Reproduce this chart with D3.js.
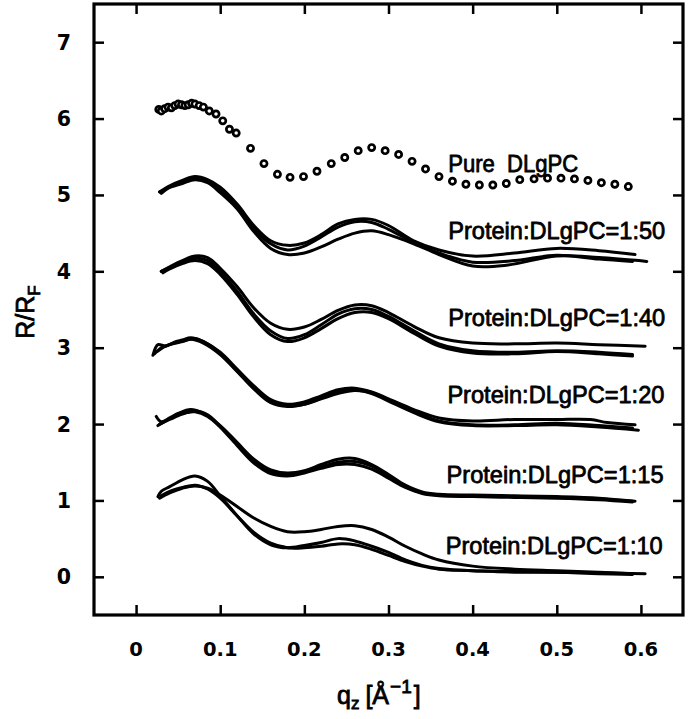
<!DOCTYPE html>
<html><head><meta charset="utf-8">
<script src="https://cdn.jsdelivr.net/npm/d3@7"></script>
<style>body{margin:0;background:#fff}svg{display:block}</style>
</head><body>
<script>
// ---- data ----
const xTicks = [0, 0.1, 0.2, 0.3, 0.4, 0.5, 0.6];
const yTicks = [0, 1, 2, 3, 4, 5, 6, 7];
const xTickLabels = ["0", "0.1", "0.2", "0.3", "0.4", "0.5", "0.6"];
const yTickLabels = ["0", "1", "2", "3", "4", "5", "6", "7"];

const pureQ = [0.027,0.030,0.034,0.038,0.042,0.046,0.050,0.054,0.058,0.062,0.066,0.070,0.075,0.080,0.087,0.095,0.103,0.111,0.119,0.136,0.152,0.168,0.183,0.199,0.215,0.232,0.248,0.264,0.280,0.296,0.312,0.328,0.344,0.360,0.376,0.392,0.408,0.424,0.440,0.456,0.473,0.489,0.505,0.521,0.537,0.553,0.569,0.585];
const pureR = [6.12,6.10,6.13,6.15,6.14,6.17,6.19,6.18,6.17,6.18,6.20,6.19,6.17,6.15,6.10,6.06,5.97,5.86,5.81,5.61,5.41,5.27,5.23,5.24,5.31,5.41,5.49,5.58,5.62,5.58,5.53,5.44,5.34,5.24,5.18,5.14,5.13,5.13,5.15,5.20,5.21,5.22,5.22,5.21,5.19,5.16,5.14,5.11];

const r50a = [[0.028,5.04],[0.04,5.12],[0.055,5.19],[0.07,5.24],[0.085,5.20],[0.10,5.10],[0.12,4.88],[0.14,4.60],[0.16,4.40],[0.18,4.34],[0.20,4.37],[0.22,4.48],[0.24,4.62],[0.26,4.68],[0.28,4.68],[0.30,4.60],[0.33,4.40],[0.36,4.28],[0.40,4.20],[0.45,4.24],[0.50,4.30],[0.55,4.27],[0.593,4.22]];
const r50b = [[0.030,5.02],[0.04,5.10],[0.055,5.17],[0.07,5.21],[0.085,5.18],[0.10,5.06],[0.12,4.85],[0.14,4.56],[0.16,4.36],[0.18,4.28],[0.20,4.33],[0.22,4.45],[0.24,4.58],[0.26,4.65],[0.28,4.64],[0.30,4.55],[0.33,4.38],[0.36,4.24],[0.40,4.12],[0.45,4.14],[0.50,4.21],[0.55,4.16],[0.59,4.13]];
const r50c = [[0.028,5.04],[0.04,5.10],[0.055,5.15],[0.07,5.20],[0.085,5.16],[0.10,5.03],[0.12,4.82],[0.14,4.52],[0.16,4.30],[0.18,4.22],[0.20,4.24],[0.22,4.32],[0.24,4.42],[0.26,4.50],[0.28,4.53],[0.30,4.48],[0.33,4.36],[0.36,4.22],[0.40,4.07],[0.44,4.08],[0.50,4.20],[0.55,4.18],[0.607,4.13]];

const r40a = [[0.030,4.00],[0.04,4.06],[0.055,4.14],[0.07,4.20],[0.085,4.18],[0.10,4.04],[0.12,3.80],[0.14,3.52],[0.16,3.32],[0.18,3.24],[0.20,3.27],[0.22,3.37],[0.24,3.49],[0.26,3.56],[0.28,3.55],[0.30,3.46],[0.33,3.28],[0.36,3.13],[0.40,3.06],[0.45,3.05],[0.50,3.06],[0.55,3.04],[0.605,3.02]];
const r40b = [[0.030,4.00],[0.04,4.05],[0.055,4.12],[0.07,4.17],[0.085,4.14],[0.10,4.00],[0.12,3.74],[0.14,3.44],[0.16,3.22],[0.18,3.12],[0.20,3.17],[0.22,3.30],[0.24,3.44],[0.26,3.51],[0.28,3.50],[0.30,3.41],[0.33,3.22],[0.36,3.05],[0.40,2.96],[0.45,2.94],[0.50,2.96],[0.55,2.94],[0.59,2.91]];
const r40c = [[0.032,3.98],[0.04,4.03],[0.055,4.10],[0.07,4.14],[0.085,4.10],[0.10,3.96],[0.12,3.70],[0.14,3.40],[0.16,3.17],[0.18,3.08],[0.20,3.13],[0.22,3.25],[0.24,3.38],[0.26,3.46],[0.28,3.46],[0.30,3.38],[0.33,3.19],[0.36,3.02],[0.40,2.93],[0.45,2.92],[0.50,2.95],[0.55,2.92],[0.59,2.89]];

const r20a = [[0.020,2.90],[0.026,3.04],[0.035,3.02],[0.045,3.07],[0.055,3.10],[0.065,3.13],[0.08,3.08],[0.10,2.94],[0.12,2.72],[0.14,2.50],[0.16,2.32],[0.18,2.26],[0.20,2.29],[0.22,2.37],[0.24,2.45],[0.26,2.47],[0.28,2.42],[0.30,2.33],[0.33,2.19],[0.36,2.08],[0.40,2.04],[0.45,2.06],[0.50,2.06],[0.54,2.06],[0.56,2.02],[0.593,1.99]];
const r20b = [[0.022,2.92],[0.03,3.00],[0.04,3.04],[0.055,3.08],[0.065,3.11],[0.08,3.06],[0.10,2.91],[0.12,2.69],[0.14,2.46],[0.16,2.28],[0.18,2.23],[0.20,2.26],[0.22,2.34],[0.24,2.43],[0.26,2.45],[0.28,2.40],[0.30,2.30],[0.33,2.15],[0.36,2.03],[0.40,1.98],[0.45,1.98],[0.50,1.99],[0.55,1.96],[0.597,1.92]];
const r20c = [[0.025,2.95],[0.035,3.02],[0.045,3.06],[0.06,3.10],[0.07,3.12],[0.085,3.05],[0.10,2.92],[0.12,2.70],[0.14,2.47],[0.16,2.30],[0.18,2.24],[0.20,2.26],[0.22,2.33],[0.24,2.40],[0.26,2.44],[0.28,2.41],[0.30,2.32],[0.33,2.17],[0.36,2.04],[0.40,1.99],[0.45,1.99],[0.50,2.01],[0.55,1.98],[0.59,1.95]];

const r15a = [[0.024,2.10],[0.03,2.03],[0.04,2.08],[0.05,2.14],[0.065,2.19],[0.08,2.14],[0.10,1.98],[0.12,1.76],[0.14,1.54],[0.16,1.40],[0.18,1.36],[0.20,1.39],[0.22,1.47],[0.24,1.54],[0.26,1.55],[0.28,1.47],[0.30,1.34],[0.32,1.20],[0.34,1.11],[0.36,1.08],[0.40,1.07],[0.45,1.06],[0.50,1.05],[0.55,1.03],[0.593,0.99]];
const r15b = [[0.026,1.98],[0.035,2.04],[0.045,2.10],[0.06,2.15],[0.07,2.16],[0.085,2.10],[0.10,1.96],[0.12,1.72],[0.14,1.49],[0.16,1.35],[0.18,1.32],[0.20,1.36],[0.22,1.42],[0.24,1.47],[0.26,1.47],[0.28,1.41],[0.30,1.29],[0.32,1.17],[0.34,1.09],[0.36,1.06],[0.40,1.05],[0.45,1.04],[0.50,1.03],[0.55,1.01],[0.59,0.98]];
const r15c = [[0.028,2.00],[0.04,2.06],[0.055,2.13],[0.07,2.17],[0.085,2.12],[0.10,1.97],[0.12,1.74],[0.14,1.51],[0.16,1.37],[0.18,1.33],[0.20,1.37],[0.22,1.44],[0.24,1.50],[0.26,1.51],[0.28,1.45],[0.30,1.32],[0.32,1.18],[0.34,1.10],[0.36,1.07],[0.40,1.06],[0.45,1.05],[0.50,1.04],[0.55,1.02],[0.59,0.99]];

const r10a = [[0.026,1.05],[0.03,1.12],[0.04,1.18],[0.055,1.27],[0.07,1.32],[0.085,1.25],[0.10,1.06],[0.12,0.80],[0.14,0.56],[0.16,0.42],[0.18,0.38],[0.20,0.41],[0.22,0.45],[0.24,0.50],[0.26,0.47],[0.28,0.40],[0.30,0.32],[0.32,0.22],[0.34,0.15],[0.36,0.11],[0.40,0.08],[0.45,0.07],[0.50,0.06],[0.55,0.05],[0.605,0.04]];
const r10b = [[0.028,1.03],[0.04,1.10],[0.055,1.16],[0.07,1.19],[0.085,1.16],[0.10,1.07],[0.12,0.92],[0.14,0.77],[0.16,0.66],[0.18,0.59],[0.20,0.59],[0.22,0.62],[0.24,0.66],[0.26,0.67],[0.28,0.62],[0.30,0.52],[0.32,0.40],[0.34,0.30],[0.36,0.22],[0.40,0.14],[0.45,0.10],[0.50,0.08],[0.55,0.06],[0.59,0.04]];
const r10c = [[0.030,1.06],[0.04,1.12],[0.055,1.17],[0.07,1.20],[0.085,1.15],[0.10,1.03],[0.12,0.80],[0.14,0.58],[0.16,0.44],[0.18,0.38],[0.20,0.38],[0.22,0.40],[0.24,0.43],[0.26,0.42],[0.28,0.36],[0.30,0.28],[0.32,0.20],[0.34,0.14],[0.36,0.10],[0.40,0.08],[0.45,0.06],[0.50,0.06],[0.55,0.04],[0.59,0.03]];

const labelTexts = ["Pure  DLgPC", "Protein:DLgPC=1:50", "Protein:DLgPC=1:40", "Protein:DLgPC=1:20", "Protein:DLgPC=1:15", "Protein:DLgPC=1:10"];
const labelQ = [0.371, 0.371, 0.371, 0.370, 0.369, 0.368];
const labelR = [5.30, 4.42, 3.28, 2.28, 1.23, 0.30];
const labelW = [130, 217, 217, 217, 217, 217];

// ---- drawing ----
const W = 692, H = 719;
const svg = d3.select("body").append("svg").attr("width", W).attr("height", H);
const x = d3.scaleLinear().domain([-0.05, 0.65]).range([94, 683]);
const y = d3.scaleLinear().domain([-0.5, 7.5]).range([615, 4]);

const curves = [r50a, r50b, r50c, r40a, r40b, r40c, r20a, r20b, r20c, r15a, r15b, r15c, r10a, r10b, r10c];
const line = d3.line().x(d => x(d[0])).y(d => y(d[1])).curve(d3.curveCatmullRom.alpha(0.5));
svg.append("g").selectAll("path").data(curves).join("path")
  .attr("d", line).attr("fill", "none").attr("stroke", "#000")
  .attr("stroke-width", 3).attr("stroke-linejoin", "round").attr("stroke-linecap", "round");

svg.append("g").selectAll("circle").data(pureQ.map((q, i) => [q, pureR[i]])).join("circle")
  .attr("cx", d => x(d[0])).attr("cy", d => y(d[1])).attr("r", 3.1)
  .attr("fill", "#fff").attr("stroke", "#000").attr("stroke-width", 2.7);

// axes (inward ticks on all four sides)
const tick = 10;
const axStyle = g => { g.select(".domain").remove(); g.selectAll(".tick line").attr("stroke", "#000").attr("stroke-width", 2.5); g.selectAll("text").remove(); };
svg.append("g").attr("transform", `translate(0,${y(-0.5)})`)
  .call(d3.axisTop(x).tickValues(xTicks).tickSize(tick)).call(axStyle);
svg.append("g").attr("transform", `translate(0,${y(7.5)})`)
  .call(d3.axisBottom(x).tickValues(xTicks).tickSize(tick)).call(axStyle);
svg.append("g").attr("transform", `translate(${x(-0.05)},0)`)
  .call(d3.axisRight(y).tickValues(yTicks).tickSize(tick)).call(axStyle);
svg.append("g").attr("transform", `translate(${x(0.65)},0)`)
  .call(d3.axisLeft(y).tickValues(yTicks).tickSize(tick)).call(axStyle);

svg.append("rect").attr("x", x(-0.05)).attr("y", y(7.5))
  .attr("width", x(0.65) - x(-0.05)).attr("height", y(-0.5) - y(7.5))
  .attr("fill", "none").attr("stroke", "#000").attr("stroke-width", 3.2);

// tick labels
const tf = "'DejaVu Sans', sans-serif";
svg.append("g").selectAll("text").data(xTicks).join("text")
  .attr("x", d => x(d)).attr("y", 656).attr("text-anchor", "middle")
  .attr("font-family", tf).attr("font-weight", "bold").attr("font-size", 19.5)
  .text((d, i) => xTickLabels[i]);
svg.append("g").selectAll("text").data(yTicks).join("text")
  .attr("x", 71).attr("y", d => y(d) + 7.5).attr("text-anchor", "end")
  .attr("font-family", tf).attr("font-weight", "bold").attr("font-size", 20.5)
  .text((d, i) => yTickLabels[i]);

// series labels
const lf = "'Liberation Sans', Arial, sans-serif";
svg.append("g").selectAll("text").data(labelTexts).join("text")
  .attr("x", (d, i) => x(labelQ[i])).attr("y", (d, i) => y(labelR[i]))
  .attr("font-family", lf).attr("font-size", 24.5).attr("fill", "#000")
  .attr("stroke", "#000").attr("stroke-width", 0.8).attr("stroke-linejoin", "round")
  .attr("textLength", (d, i) => labelW[i]).attr("lengthAdjust", "spacingAndGlyphs")
  .attr("xml:space", "preserve").style("white-space", "pre")
  .text(d => d);

// axis titles
const yt = svg.append("text").attr("transform", "translate(34,312) rotate(-90)")
  .attr("text-anchor", "middle").attr("font-family", lf).attr("font-size", 25)
  .attr("stroke", "#000").attr("stroke-width", 0.8);
yt.append("tspan").text("R/R");
yt.append("tspan").attr("font-size", 17).attr("dy", 6).text("F");

const xt = svg.append("text").attr("x", 337).attr("y", 704)
  .attr("font-family", lf).attr("font-size", 25)
  .attr("stroke", "#000").attr("stroke-width", 0.8);
xt.append("tspan").text("q");
xt.append("tspan").attr("font-size", 17).attr("dy", 5).text("z");
xt.append("tspan").attr("dy", -5).attr("dx", 6).text("[Å");
xt.append("tspan").attr("font-size", 19).attr("dy", -11).attr("dx", 1).text("−1");
xt.append("tspan").attr("dy", 11).attr("dx", 2).text("]");
</script>
</body></html>
